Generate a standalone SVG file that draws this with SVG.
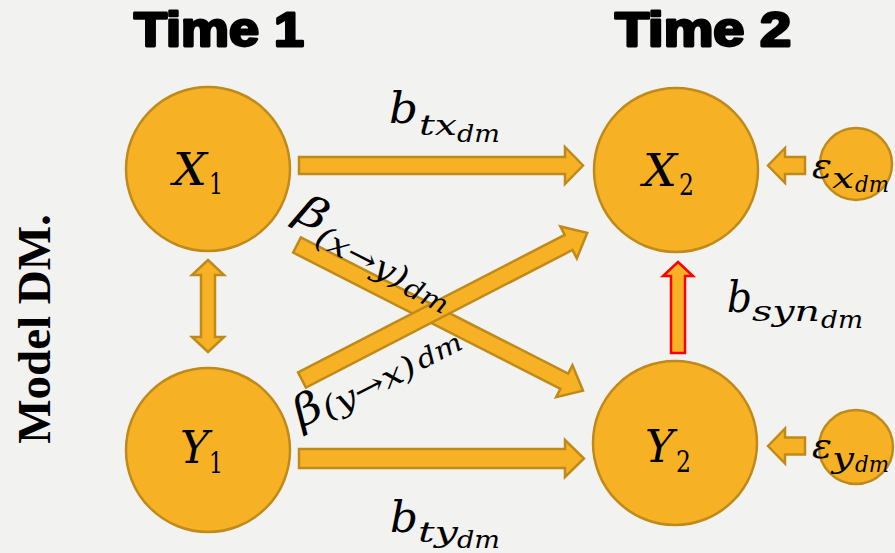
<svg xmlns="http://www.w3.org/2000/svg" width="895" height="553" viewBox="0 0 895 553">
<style>
.node{fill:#F6B224;stroke:#C08A1A;stroke-width:2.5}
.arr{fill:#F6B224;stroke:#C08A1A;stroke-width:2.5;stroke-linejoin:miter}
.red{fill:#F6B224;stroke:#FF0000;stroke-width:2.5}
.title{font-family:"Liberation Sans",Arial,sans-serif;font-weight:900;font-size:48px;fill:#000;stroke:#000;stroke-width:2.8;stroke-linejoin:round}
.m{font-family:"DejaVu Serif","Liberation Serif",serif;font-style:italic;fill:#000}
.u{font-family:"DejaVu Serif","Liberation Serif",serif;font-style:normal;fill:#000}
</style>
<rect width="895" height="553" fill="#F2F2F0"/>
<text class="title" x="134" y="46" textLength="170" lengthAdjust="spacingAndGlyphs">Time 1</text>
<text class="title" x="615" y="46" textLength="176" lengthAdjust="spacingAndGlyphs">Time 2</text>
<text transform="translate(50,329) rotate(-90)" text-anchor="middle" font-family="'Liberation Serif',serif" font-weight="bold" font-size="47">Model DM.</text>

<g id="connectors">
<polygon class="arr" points="299,157 565,157 565,147 583,165.5 565,184 565,174 299,174"/>
<polygon class="arr" points="299,449 565,449 565,440 584,458.5 565,477 565,468 299,468"/>
<polygon class="arr" transform="translate(297,245) rotate(27)" points="0,-8.5 300,-8.5 300,-18 321,0 300,18 300,8.5 0,8.5"/>
<polygon class="arr" transform="translate(302,380) rotate(-27.3)" points="0,-8.5 300,-8.5 300,-18 321,0 300,18 300,8.5 0,8.5"/>
<polygon class="arr" points="208,260 224,275 215,275 215,337 224,337 208,352 192,337 201,337 201,275 192,275"/>
<polygon class="red" points="678,262 693,276 685,276 685,353 671,353 671,276 663,276"/>
<polygon class="arr" points="768,165.5 785,148 785,157 805,157 805,174 785,174 785,183"/>
<polygon class="arr" points="768,446 785,428.5 785,437.5 805,437.5 805,454.5 785,454.5 785,463.5"/>
</g>

<g id="X1"><circle class="node" cx="208" cy="169" r="82"/>
<text class="m" x="173" y="185" font-size="44" textLength="34" lengthAdjust="spacingAndGlyphs">X</text><text class="u" x="209" y="194" font-size="30" textLength="14" lengthAdjust="spacingAndGlyphs">1</text></g>
<g id="Y1"><circle class="node" cx="208" cy="450" r="82"/>
<text class="m" x="180" y="463" font-size="44" textLength="29" lengthAdjust="spacingAndGlyphs">Y</text><text class="u" x="209" y="473" font-size="30" textLength="14" lengthAdjust="spacingAndGlyphs">1</text></g>
<g id="X2"><circle class="node" cx="676" cy="170" r="82"/>
<text class="m" x="643" y="186" font-size="44" textLength="34" lengthAdjust="spacingAndGlyphs">X</text><text class="u" x="679" y="195" font-size="30" textLength="15" lengthAdjust="spacingAndGlyphs">2</text></g>
<g id="Y2"><circle class="node" cx="675" cy="443" r="82"/>
<text class="m" x="645" y="462" font-size="44" textLength="29" lengthAdjust="spacingAndGlyphs">Y</text><text class="u" x="676" y="472" font-size="30" textLength="15" lengthAdjust="spacingAndGlyphs">2</text></g>
<g id="ex"><circle class="node" cx="856" cy="164" r="36"/>
<text class="m" font-size="36" x="812" y="178" textLength="20" lengthAdjust="spacingAndGlyphs">ε</text><text class="m" font-size="27" x="832" y="188" textLength="22" lengthAdjust="spacingAndGlyphs">x</text><text class="m" font-size="22" x="855" y="192" textLength="34" lengthAdjust="spacingAndGlyphs">dm</text></g>
<g id="ey"><circle class="node" cx="856" cy="447" r="37"/>
<text class="m" font-size="36" x="812" y="458" textLength="20" lengthAdjust="spacingAndGlyphs">ε</text><text class="m" font-size="27" x="832" y="468" textLength="22" lengthAdjust="spacingAndGlyphs">y</text><text class="m" font-size="22" x="855" y="472" textLength="34" lengthAdjust="spacingAndGlyphs">dm</text></g>

<g id="labels">
<text class="m" font-size="42" x="389" y="123" textLength="29" lengthAdjust="spacingAndGlyphs">b</text><text class="m" font-size="28" x="419" y="135" textLength="38" lengthAdjust="spacingAndGlyphs">tx</text><text class="m" font-size="24" x="457" y="142" textLength="43" lengthAdjust="spacingAndGlyphs">dm</text>
<text class="m" font-size="42" x="390" y="532" textLength="28" lengthAdjust="spacingAndGlyphs">b</text><text class="m" font-size="28" x="418" y="542" textLength="40" lengthAdjust="spacingAndGlyphs">ty</text><text class="m" font-size="24" x="457" y="548" textLength="43" lengthAdjust="spacingAndGlyphs">dm</text>
<text class="m" font-size="42" x="727" y="312" textLength="25" lengthAdjust="spacingAndGlyphs">b</text><text class="m" font-size="28" x="752" y="321" textLength="68" lengthAdjust="spacingAndGlyphs">syn</text><text class="m" font-size="24" x="821" y="328" textLength="42" lengthAdjust="spacingAndGlyphs">dm</text>
<g transform="translate(293,219) rotate(27)"><text class="m" font-size="42" x="0" y="0" textLength="30" lengthAdjust="spacingAndGlyphs">β</text><text class="m" font-size="31" x="29" y="13" textLength="100" lengthAdjust="spacingAndGlyphs">(x→y)</text><text class="m" font-size="26" x="131" y="17" textLength="46" lengthAdjust="spacingAndGlyphs">dm</text></g>
<g transform="translate(301,428) rotate(-27)"><text class="m" font-size="42" x="0" y="0" textLength="28" lengthAdjust="spacingAndGlyphs">β</text><text class="m" font-size="31" x="28" y="5" textLength="102" lengthAdjust="spacingAndGlyphs">(y→x)</text><text class="m" font-size="26" x="134" y="3" textLength="48" lengthAdjust="spacingAndGlyphs">dm</text></g>
</g>
</svg>
